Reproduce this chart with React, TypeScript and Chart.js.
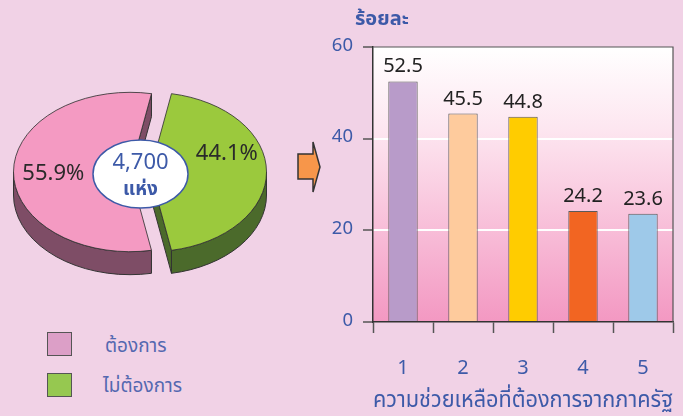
import React, { useEffect, useRef } from "react";
import { Chart, registerables } from "chart.js";

Chart.register(...registerables);

// ---------- data ----------
const pieLabels = ["ต้องการ", "ไม่ต้องการ"];
const pieValues = [55.9, 44.1];
const pieTotalText = "4,700";
const pieUnitText = "แห่ง";

const barCategories = ["1", "2", "3", "4", "5"];
const barValues = [52.5, 45.5, 44.8, 24.2, 23.6];
const yTicks = [0, 20, 40, 60];
const yAxisTitle = "ร้อยละ";
const xAxisTitle = "ความช่วยเหลือที่ต้องการจากภาครัฐ";

// ---------- styles ----------
const FONT = "'Noto Sans Thai', Tahoma, 'DejaVu Sans', sans-serif";
const BLUE = "#3d5aa8";
const PAGE_BG = "#f1d2e6";
const OUTLINE = "#333333";
const pieTopColors = ["#f49ac2", "#9bc93d"];
const pieSideColors = ["#7e4d66", "#4b6a2b"];
const legendColors = ["#dc9fc7", "#96c850"];
const barColors = ["#b89bc9", "#fecb9d", "#ffcc00", "#f26522", "#9ec9e9"];

const SQUASH = 0.684;
const DEPTH = 23;
const EXPLODE = 10;
const labelTweak = [
  { da: -0.077, f: 0.66 },
  { da: -0.3, f: 0.69 },
];

function visibleRanges(s: number, e: number): [number, number][] {
  const out: [number, number][] = [];
  for (let n = -1; n <= 2; n++) {
    const a = Math.max(s, 2 * Math.PI * n);
    const b = Math.min(e, 2 * Math.PI * n + Math.PI);
    if (b > a) out.push([a, b]);
  }
  return out;
}

const pie3dPlugin = {
  id: "pie3d",
  beforeDatasetsDraw(chart: any) {
    const ctx = chart.ctx as CanvasRenderingContext2D;
    const arcs = chart.getDatasetMeta(0).data;
    const geo = arcs.map((arc: any, i: number) => {
      const mid = (arc.startAngle + arc.endAngle) / 2;
      return {
        arc,
        i,
        cx: arc.x + Math.cos(mid) * EXPLODE,
        cy: arc.y + Math.sin(mid) * EXPLODE * SQUASH,
        r: arc.outerRadius,
        ry: arc.outerRadius * SQUASH,
      };
    });
    geo.forEach(({ arc, i, cx, cy, r, ry }: any) => {
      ctx.save();
      ctx.fillStyle = pieSideColors[i];
      ctx.strokeStyle = OUTLINE;
      ctx.lineWidth = 1;
      ctx.lineJoin = "round";
      const pt = (t: number, d = 0): [number, number] => [cx + r * Math.cos(t), cy + ry * Math.sin(t) + d];
      const faces: number[] = [];
      if (Math.cos(arc.endAngle) > 0) faces.push(arc.endAngle);
      if (Math.cos(arc.startAngle) < 0) faces.push(arc.startAngle);
      faces.forEach((t) => {
        const [px, py] = pt(t);
        ctx.beginPath();
        ctx.moveTo(cx, cy);
        ctx.lineTo(px, py);
        ctx.lineTo(px, py + DEPTH);
        ctx.lineTo(cx, cy + DEPTH);
        ctx.closePath();
        ctx.fill();
        ctx.stroke();
      });
      visibleRanges(arc.startAngle, arc.endAngle).forEach(([a, b]) => {
        ctx.beginPath();
        ctx.ellipse(cx, cy, r, ry, 0, a, b);
        const p = pt(b, DEPTH);
        ctx.lineTo(p[0], p[1]);
        ctx.ellipse(cx, cy + DEPTH, r, ry, 0, b, a, true);
        ctx.closePath();
        ctx.fill();
        ctx.stroke();
      });
      ctx.restore();
    });
    geo.forEach(({ arc, cx, cy }: any) => {
      ctx.save();
      ctx.translate(cx, cy);
      ctx.scale(1, SQUASH);
      ctx.translate(-arc.x, -arc.y);
      arc.draw(ctx);
      ctx.restore();
    });
    return false;
  },
  afterDraw(chart: any) {
    const ctx = chart.ctx as CanvasRenderingContext2D;
    const arcs = chart.getDatasetMeta(0).data;
    ctx.save();
    ctx.textAlign = "center";
    ctx.textBaseline = "middle";
    arcs.forEach((arc: any, i: number) => {
      const mid = (arc.startAngle + arc.endAngle) / 2;
      const cx = arc.x + Math.cos(mid) * EXPLODE;
      const cy = arc.y + Math.sin(mid) * EXPLODE * SQUASH;
      const a = mid + labelTweak[i].da;
      const f = labelTweak[i].f;
      const lx = cx + Math.cos(a) * arc.outerRadius * f;
      const ly = cy + Math.sin(a) * arc.outerRadius * SQUASH * f;
      ctx.fillStyle = "#2a2a2a";
      ctx.font = `22px ${FONT}`;
      ctx.fillText(`${pieValues[i].toFixed(1)}%`, lx, ly);
    });
    const c = arcs[0];
    const ex = c.x + 0.5;
    const ey = c.y + 2;
    ctx.beginPath();
    ctx.ellipse(ex, ey, 47.5, 34, 0, 0, Math.PI * 2);
    ctx.fillStyle = "#ffffff";
    ctx.fill();
    ctx.lineWidth = 1.5;
    ctx.strokeStyle = BLUE;
    ctx.stroke();
    ctx.fillStyle = BLUE;
    ctx.font = `22px ${FONT}`;
    ctx.fillText(pieTotalText, ex, ey - 9);
    ctx.font = `bold 19px ${FONT}`;
    ctx.fillText(pieUnitText, ex, ey + 17);
    ctx.restore();
  },
};

const barBgPlugin = {
  id: "barBg",
  beforeDraw(chart: any) {
    const { ctx, chartArea: a } = chart;
    const g = ctx.createLinearGradient(0, a.top, 0, a.bottom);
    g.addColorStop(0, "#ffffff");
    g.addColorStop(0.3, "#fde6f0");
    g.addColorStop(1, "#f398c2");
    ctx.save();
    ctx.fillStyle = g;
    ctx.fillRect(a.left, a.top, a.right - a.left, a.bottom - a.top);
    ctx.restore();
  },
  afterDatasetsDraw(chart: any) {
    const { ctx, chartArea: a } = chart;
    ctx.save();
    ctx.strokeStyle = "#555555";
    ctx.lineWidth = 1.2;
    ctx.beginPath();
    ctx.moveTo(a.left, a.top);
    ctx.lineTo(a.right, a.top);
    ctx.lineTo(a.right, a.bottom);
    ctx.stroke();
    const meta = chart.getDatasetMeta(0);
    ctx.fillStyle = "#222222";
    ctx.font = `20px ${FONT}`;
    ctx.textAlign = "center";
    ctx.textBaseline = "middle";
    meta.data.forEach((bar: any, i: number) => {
      ctx.fillText(barValues[i].toFixed(1), bar.x, bar.y - 13);
    });
    ctx.restore();
  },
  afterDraw(chart: any) {
    const { ctx, chartArea: a } = chart;
    ctx.save();
    ctx.fillStyle = BLUE;
    ctx.font = `bold 20px ${FONT}`;
    ctx.textAlign = "left";
    ctx.textBaseline = "middle";
    ctx.fillText(yAxisTitle, a.left - 18, a.top - 26);
    ctx.restore();
  },
};

export default function App() {
  const pieRef = useRef<HTMLCanvasElement | null>(null);
  const barRef = useRef<HTMLCanvasElement | null>(null);

  useEffect(() => {
    const total = pieValues.reduce((s, v) => s + v, 0);
    const pieRotation = 90 + (360 * pieValues[1]) / (2 * total);
    const pie = new Chart(pieRef.current as HTMLCanvasElement, {
      type: "pie",
      data: {
        labels: pieLabels,
        datasets: [
          {
            data: pieValues,
            backgroundColor: pieTopColors,
            borderColor: OUTLINE,
            borderWidth: 1,
          },
        ],
      },
      options: {
        responsive: true,
        maintainAspectRatio: false,
        animation: false,
        rotation: pieRotation,
        layout: { padding: 18 },
        plugins: { legend: { display: false }, tooltip: { enabled: false } },
      },
      plugins: [pie3dPlugin as any],
    });

    const bar = new Chart(barRef.current as HTMLCanvasElement, {
      type: "bar",
      data: {
        labels: barCategories,
        datasets: [
          {
            data: barValues,
            backgroundColor: barColors,
            borderColor: "#5a5a5a",
            borderWidth: 1,
            barPercentage: 0.49,
            categoryPercentage: 1,
          },
        ],
      },
      options: {
        responsive: true,
        maintainAspectRatio: false,
        animation: false,
        layout: { padding: { top: 47, right: 10, left: 0, bottom: 0 } },
        plugins: { legend: { display: false }, tooltip: { enabled: false } },
        scales: {
          x: {
            grid: { offset: true, drawOnChartArea: false, tickLength: 11, tickColor: "#555555", tickWidth: 1.5 },
            border: { color: "#333333", width: 1.5 },
            ticks: { color: BLUE, font: { size: 20, family: FONT }, padding: 25 },
            title: {
              display: true,
              text: xAxisTitle,
              color: BLUE,
              font: { size: 22.5, family: FONT },
              padding: { top: 0, bottom: 0 },
            },
            afterFit(s: any) {
              s.height = 94;
            },
          },
          y: {
            min: 0,
            max: 60,
            afterBuildTicks(s: any) {
              s.ticks = yTicks.map((v) => ({ value: v }));
            },
            ticks: { color: BLUE, font: { size: 18.5, family: FONT }, padding: 10 },
            grid: {
              color: (c: any) => (c.tick && (c.tick.value === 0 || c.tick.value === 60) ? "rgba(0,0,0,0)" : "#ffffff"),
              lineWidth: 2,
              tickLength: 10,
              tickColor: "#555555",
              tickWidth: 1.5,
            },
            border: { color: "#333333", width: 1.5 },
            afterFit(s: any) {
              s.width = 43;
            },
          },
        },
      },
      plugins: [barBgPlugin as any],
    });

    return () => {
      pie.destroy();
      bar.destroy();
    };
  }, []);

  const legendText: React.CSSProperties = {
    position: "absolute",
    fontSize: 19,
    color: "#5468b0",
    lineHeight: "24px",
    whiteSpace: "nowrap",
  };

  return (
    <div
      style={{
        position: "fixed",
        left: 0,
        top: 0,
        width: 683,
        height: 416,
        background: PAGE_BG,
        overflow: "hidden",
        fontFamily: FONT,
      }}
    >
      <div style={{ position: "absolute", left: 5, top: 37, width: 270, height: 270 }}>
        <canvas ref={pieRef} />
      </div>
      <div style={{ position: "absolute", left: 330, top: 0, width: 353, height: 416 }}>
        <canvas ref={barRef} />
      </div>
      <svg style={{ position: "absolute", left: 290, top: 135, overflow: "visible" }} width={40} height={64}>
        <polygon
          points="8,19 23,19 23,7 30,32 23,57 23,44 8,44"
          fill="#f7964a"
          stroke="#333"
          strokeWidth={1.5}
          strokeLinejoin="miter"
        />
      </svg>
      <div
        style={{
          position: "absolute",
          left: 47,
          top: 332,
          width: 23,
          height: 22,
          background: legendColors[0],
          border: "1.5px solid #555",
        }}
      />
      <div style={{ ...legendText, left: 105, top: 335 }}>{pieLabels[0]}</div>
      <div
        style={{
          position: "absolute",
          left: 47,
          top: 373,
          width: 23,
          height: 22,
          background: legendColors[1],
          border: "1.5px solid #555",
        }}
      />
      <div style={{ ...legendText, left: 103, top: 375 }}>{pieLabels[1]}</div>
    </div>
  );
}
